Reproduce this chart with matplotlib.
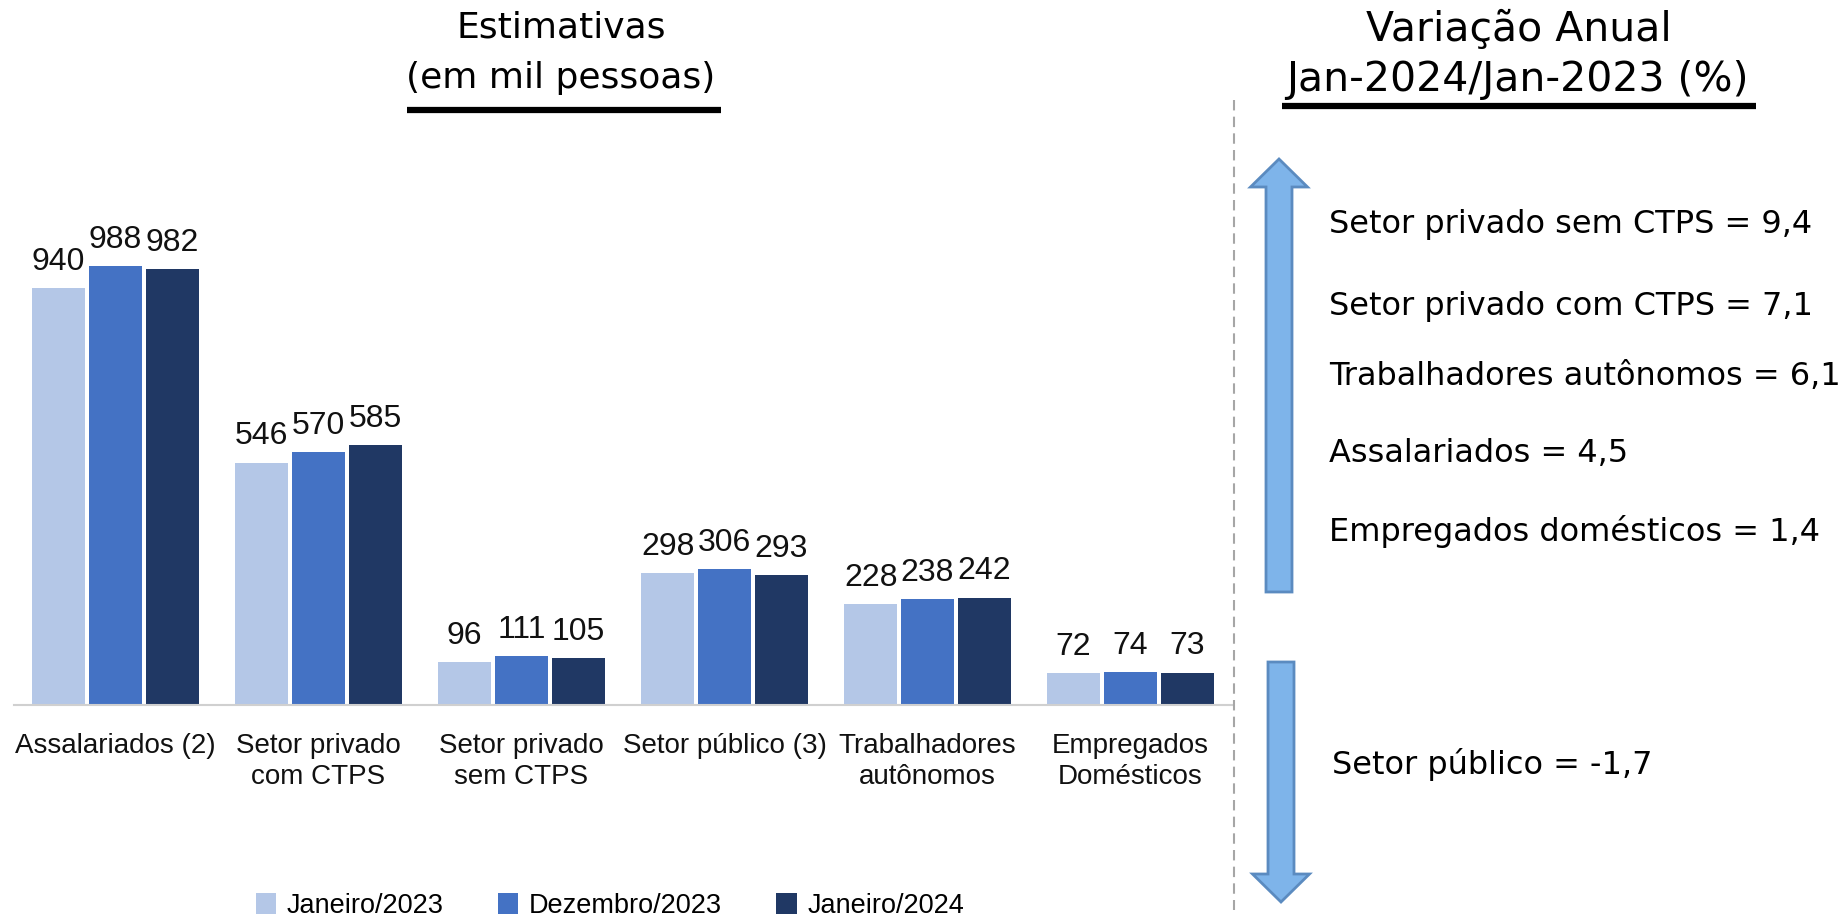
import matplotlib
matplotlib.use("Agg")
import matplotlib.pyplot as plt
from matplotlib.patches import FancyArrow
import numpy as np

categorias = ["Assalariados (2)", "Setor privado\ncom CTPS", "Setor privado\nsem CTPS",
              "Setor público (3)", "Trabalhadores\nautônomos", "Empregados\nDomésticos"]
series = ["Janeiro/2023", "Dezembro/2023", "Janeiro/2024"]
jan_2023 = [940, 546, 96, 298, 228, 72]
dez_2023 = [988, 570, 111, 306, 238, 74]
jan_2024 = [982, 585, 105, 293, 242, 73]
cores = ["#B4C7E7", "#4472C4", "#203864"]

variacao_pos = ["Setor privado sem CTPS = 9,4", "Setor privado com CTPS = 7,1",
                "Trabalhadores autônomos = 6,1", "Assalariados = 4,5",
                "Empregados domésticos = 1,4"]
variacao_neg = ["Setor público = -1,7"]

W, H = 1848, 921
fig = plt.figure(figsize=(W / 100, H / 100), dpi=100)

bar_font = ["Liberation Sans", "DejaVu Sans"]

ax = fig.add_axes([14 / W, 1 - 705 / H, (1232 - 14) / W, 444 / H])
x = np.arange(len(categorias))
largura = 0.26
passo = 0.28
for i, (vals, nome) in enumerate(zip([jan_2023, dez_2023, jan_2024], series)):
    barras = ax.bar(x + (i - 1) * passo, vals, width=largura, color=cores[i], label=nome)
    ax.bar_label(barras, labels=[str(v) for v in vals], padding=8,
                 fontsize=23, family=bar_font, color="#111111")

ax.set_xlim(-0.5, len(categorias) - 0.5)
ax.set_ylim(0, 1000)
ax.set_xticks(x)
ax.set_xticklabels(categorias, fontsize=20, family=bar_font, color="#111111",
                   linespacing=1.25)
ax.tick_params(axis="x", length=0, pad=20)
ax.set_yticks([])
for s in ["left", "right", "top"]:
    ax.spines[s].set_visible(False)
ax.spines["bottom"].set_color("#D0D0D0")
ax.spines["bottom"].set_linewidth(1.5)

fig.legend(loc="center", bbox_to_anchor=(610 / W, 1 - 906 / H), ncol=3, frameon=False,
           prop={"family": bar_font, "size": 19.5}, handlelength=0.75, handleheight=0.8,
           handletextpad=0.4, columnspacing=2.0)

# overlay em pixels para títulos, linha tracejada e setas
ov = fig.add_axes([0, 0, 1, 1])
ov.set_xlim(0, W)
ov.set_ylim(H, 0)
ov.axis("off")

ov.text(561, 28, "Estimativas", ha="center", va="center", fontsize=26, family="DejaVu Sans")
ov.text(561, 78, "(em mil pessoas)", ha="center", va="center", fontsize=26, family="DejaVu Sans")
ov.plot([407, 721], [110, 110], color="black", lw=4.5, solid_capstyle="butt")

ov.text(1519, 30, "Variação Anual", ha="center", va="center", fontsize=29.5, family="DejaVu Sans")
ov.text(1517, 80, "Jan-2024/Jan-2023 (%)", ha="center", va="center", fontsize=29.5, family="DejaVu Sans")
ov.plot([1282, 1756], [106, 106], color="black", lw=4.5, solid_capstyle="butt")

ov.plot([1234, 1234], [100, 910], color="#A6A6A6", lw=1.5, ls=(0, (5, 3)))

seta_cor = "#7EB4EA"
seta_borda = "#5B8BC0"
ov.add_patch(FancyArrow(1279, 592, 0, -433, width=26, head_width=57, head_length=28,
                        length_includes_head=True, fc=seta_cor, ec=seta_borda, lw=2))
ov.add_patch(FancyArrow(1281, 662, 0, 240, width=26, head_width=57, head_length=28,
                        length_includes_head=True, fc=seta_cor, ec=seta_borda, lw=2))

ys = [224, 306, 376, 453, 531]
for texto, y in zip(variacao_pos, ys):
    ov.text(1329, y, texto, ha="left", va="center", fontsize=23, family="DejaVu Sans")
ov.text(1332, 764, variacao_neg[0], ha="left", va="center", fontsize=23, family="DejaVu Sans")

fig.savefig("out.png", dpi=100, facecolor="white")
